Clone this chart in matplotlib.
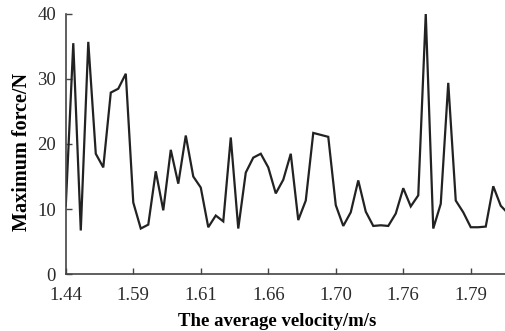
import numpy as np
import matplotlib.pyplot as plt

# Maximum force (N) for each test
force = [10.5, 35.5, 6.7, 35.7, 18.5, 16.4, 27.9, 28.5, 30.8, 11.0,
         7.0, 7.6, 15.8, 9.8, 19.1, 13.9, 21.3, 15.0, 13.3, 7.2,
         9.0, 8.1, 21.0, 7.0, 15.6, 17.9, 18.5, 16.4, 12.4, 14.5,
         18.5, 8.3, 11.3, 21.7, 21.4, 21.1, 10.6, 7.4, 9.5, 14.4,
         9.6, 7.4, 7.5, 7.4, 9.3, 13.2, 10.4, 12.1, 40.0, 7.0,
         10.8, 29.4, 11.3, 9.5, 7.2, 7.2, 7.3, 13.5, 10.5, 9.3]
tick_idx = [0, 9, 18, 27, 36, 45, 54]
tick_labels = ['1.44', '1.59', '1.61', '1.66', '1.70', '1.76', '1.79']

plt.rcParams['font.family'] = ['Liberation Serif', 'DejaVu Serif']

fig = plt.figure(figsize=(5.06, 3.31), dpi=100)
ax = fig.add_axes([0.130, 0.172, 0.87, 0.786])

ax.plot(np.arange(len(force)), force, color='#222222', linewidth=1.6,
        solid_joinstyle='miter', clip_on=True)

ax.set_xlim(0, 58.7)
ax.set_ylim(0, 40)
ax.set_yticks([0, 10, 20, 30, 40])
ax.set_xticks(tick_idx)
ax.set_xticklabels(tick_labels)

for side in ['top', 'right']:
    ax.spines[side].set_visible(False)
for side in ['left', 'bottom']:
    ax.spines[side].set_color('#444444')
    ax.spines[side].set_linewidth(1.2)

ax.tick_params(axis='both', direction='in', length=4, width=1, color='#444444',
               labelsize=13.5, labelcolor='#2a2a2a')
ax.tick_params(axis='x', pad=9)
ax.tick_params(axis='y', pad=7)

ax.set_xlabel('The average velocity/m/s', fontsize=13.5, fontweight='bold')
ax.set_ylabel('Maximum force/N', fontsize=14.5, fontweight='bold')
# label anchors: x label top edge, y label right edge (axes fractions)
ax.xaxis.set_label_coords(0.48, -0.148)
ax.yaxis.set_label_coords(-0.076, 0.47)

fig.savefig('out.png', dpi=100)
